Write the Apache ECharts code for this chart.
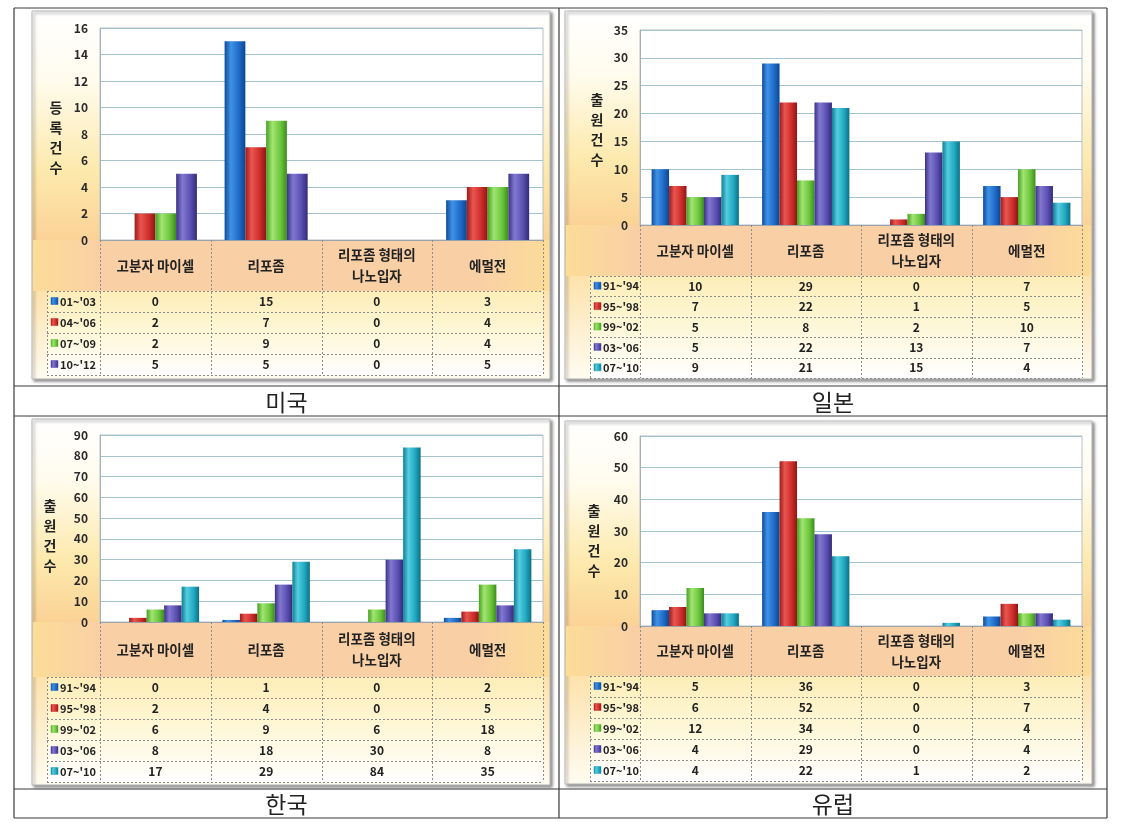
<!DOCTYPE html>
<html><head><meta charset="utf-8">
<script src="https://cdn.jsdelivr.net/npm/echarts@6/dist/echarts.min.js"></script>
<style>html,body{margin:0;padding:0;background:#fff}#c{width:1127px;height:826px}</style>
</head><body><div id="c"></div>
<script>
// ---------- data ----------
const categories = ['고분자 마이셀', '리포좀', '리포좀 형태의\n나노입자', '에멀전'];
const panelTitles = ['미국', '일본', '한국', '유럽'];
const axisTitles = ['등록건수', '출원건수', '출원건수', '출원건수'];

const usPeriods = ["01~'03", "04~'06", "07~'09", "10~'12"];
const usValues = [[0, 15, 0, 3], [2, 7, 0, 4], [2, 9, 0, 4], [5, 5, 0, 5]];

const jpPeriods = ["91~'94", "95~'98", "99~'02", "03~'06", "07~'10"];
const jpValues = [[10, 29, 0, 7], [7, 22, 1, 5], [5, 8, 2, 10], [5, 22, 13, 7], [9, 21, 15, 4]];

const krPeriods = ["91~'94", "95~'98", "99~'02", "03~'06", "07~'10"];
const krValues = [[0, 1, 0, 2], [2, 4, 0, 5], [6, 9, 6, 18], [8, 18, 30, 8], [17, 29, 84, 35]];

const euPeriods = ["91~'94", "95~'98", "99~'02", "03~'06", "07~'10"];
const euValues = [[5, 36, 0, 3], [6, 52, 0, 7], [12, 34, 0, 4], [4, 29, 0, 4], [4, 22, 1, 2]];

const yMax = [16, 35, 90, 60];
const yStep = [2, 5, 10, 10];

// ---------- layout / style ----------
const FONT = '"Noto Sans CJK KR","Noto Sans",sans-serif';
const layouts = [
  {frame: [32, 11, 518, 368], grid: [100, 28, 443, 212], catH: 51, rowH: 21, hdrX: 47, tX: 56, tY: 138, cell: [14, 386, 545, 30]},
  {frame: [565, 11, 527, 368], grid: [640, 30, 442, 195], catH: 51, rowH: 20.4, hdrX: 590, tX: 597, tY: 130, cell: [559, 386, 548, 30]},
  {frame: [32, 419, 518, 366], grid: [100, 435, 443, 187], catH: 55, rowH: 21, hdrX: 47, tX: 50, tY: 536, cell: [14, 789, 545, 29]},
  {frame: [565, 421, 527, 363], grid: [640, 436, 442, 190], catH: 50, rowH: 21, hdrX: 590, tX: 594, tY: 541, cell: [559, 789, 548, 29]}
];
const panelData = [
  {periods: usPeriods, values: usValues},
  {periods: jpPeriods, values: jpValues},
  {periods: krPeriods, values: krValues},
  {periods: euPeriods, values: euValues}
];
const baseColors = ['#1c64c0', '#c82a27', '#62be34', '#5346a8', '#1a9fb6'];
const gradStops = [
  ['#0f4c9c', '#3f92e6', '#1e6ac6', '#0c4690'],
  ['#9e1a18', '#ea5550', '#cc2d2a', '#8e1614'],
  ['#44a020', '#a2e472', '#6cc63c', '#3a8c1c'],
  ['#3b3184', '#8278d0', '#5a4fb2', '#342b78'],
  ['#0f7e94', '#55cde0', '#1fa8c0', '#0c7084']
];
function barGrad(k) {
  const s = gradStops[k];
  return {type: 'linear', x: 0, y: 0, x2: 1, y2: 0, colorStops: [
    {offset: 0, color: s[0]}, {offset: 0.3, color: s[1]}, {offset: 0.7, color: s[2]}, {offset: 1, color: s[3]}]};
}

const grids = [], xAxes = [], yAxes = [], series = [], graphics = [];

// outer table lines
const outerH = [8, 386, 416, 789, 818];
outerH.forEach(y => graphics.push({type: 'line', z: 50, shape: {x1: 14, y1: y, x2: 1107, y2: y}, style: {stroke: '#3a3a3a', lineWidth: 1.2}}));
[14, 559, 1107].forEach(x => graphics.push({type: 'line', z: 50, shape: {x1: x, y1: 8, x2: x, y2: 818}, style: {stroke: '#3a3a3a', lineWidth: 1.2}}));

layouts.forEach((L, i) => {
  const pd = panelData[i];
  const [gl, gt, gw, gh] = L.grid;
  const gb = gt + gh, gr = gl + gw;
  const nRows = pd.periods.length;
  const colW = gw / categories.length;

  grids.push({left: gl, top: gt, width: gw, height: gh, show: true, backgroundColor: '#ffffff', borderColor: '#b9c0c8', borderWidth: 1});
  xAxes.push({type: 'category', gridIndex: i, data: categories, axisLabel: {show: false}, axisTick: {show: false},
    axisLine: {lineStyle: {color: '#9aa3ab'}}});
  yAxes.push({type: 'value', gridIndex: i, min: 0, max: yMax[i], interval: yStep[i],
    axisLabel: {fontFamily: FONT, fontWeight: 'bold', fontSize: 12, color: '#2a2a2a', margin: 12},
    axisLine: {show: true, lineStyle: {color: '#a8b0b8'}}, axisTick: {show: false},
    splitLine: {lineStyle: {color: '#a3c3cf', width: 1}}});
  pd.periods.forEach((p, k) => {
    series.push({type: 'bar', name: p, xAxisIndex: i, yAxisIndex: i, data: pd.values[k],
      barGap: '0%', barCategoryGap: nRows === 4 ? '25%' : '21%',
      itemStyle: {color: barGrad(k)}, emphasis: {disabled: true}});
  });

  // frame background
  const [fx, fy, fw, fh] = L.frame;
  const p = (gb - fy) / fh, q = (gb + L.catH - fy) / fh;
  graphics.push({type: 'rect', z: -20, shape: {x: fx, y: fy, width: fw, height: fh},
    style: {fill: {type: 'linear', x: 0, y: 0, x2: 0, y2: 1, colorStops: [
      {offset: 0, color: '#ffffff'}, {offset: p * 0.3, color: '#fffcee'}, {offset: p * 0.7, color: '#fde9ac'},
      {offset: p, color: '#fbd296'}, {offset: q, color: '#fde2ac'}, {offset: 1, color: '#fffcf2'}]},
      stroke: '#b8b8b8', lineWidth: 1, shadowBlur: 3, shadowOffsetX: 2, shadowOffsetY: 2, shadowColor: 'rgba(0,0,0,0.45)'}});
  // category row band
  graphics.push({type: 'rect', z: -15, shape: {x: fx + 1, y: gb, width: fw - 2, height: L.catH},
    style: {fill: {type: 'linear', x: 0, y: 0, x2: 1, y2: 0, colorStops: [
      {offset: 0, color: '#fcdc98'}, {offset: 0.14, color: '#f9cfa6'}, {offset: 0.86, color: '#f9cfa6'}, {offset: 1, color: '#fcdc98'}]}}});
  // data rows band
  const rowsTop = gb + L.catH;
  graphics.push({type: 'rect', z: -15, shape: {x: L.hdrX, y: rowsTop, width: gr - L.hdrX, height: L.rowH * nRows},
    style: {fill: {type: 'linear', x: 0, y: 0, x2: 0, y2: 1, colorStops: [
      {offset: 0, color: '#fdeeb8'}, {offset: 0.5, color: '#fef7d8'}, {offset: 1, color: '#ffffff'}]}}});

  const dash = {stroke: '#8c8c8c', lineWidth: 1, lineDash: [2, 2]};
  for (let r = 0; r <= nRows; r++) {
    const y = Math.round(rowsTop + r * L.rowH) + 0.5;
    graphics.push({type: 'line', z: 5, shape: {x1: L.hdrX, y1: y, x2: gr, y2: y}, style: dash});
  }
  graphics.push({type: 'line', z: 5, shape: {x1: L.hdrX + 0.5, y1: rowsTop, x2: L.hdrX + 0.5, y2: rowsTop + L.rowH * nRows}, style: dash});
  for (let c = 0; c <= categories.length; c++) {
    const x = Math.round(gl + c * colW) + 0.5;
    graphics.push({type: 'line', z: 5, shape: {x1: x, y1: gb, x2: x, y2: rowsTop + L.rowH * nRows}, style: dash});
  }
  categories.forEach((cat, c) => {
    graphics.push({type: 'text', z: 20, x: gl + (c + 0.5) * colW, y: gb + L.catH / 2,
      style: {text: cat, fontFamily: FONT, fontWeight: 'bold', fontSize: 13.5, fill: '#222', align: 'center', verticalAlign: 'middle', lineHeight: 21}});
  });
  pd.periods.forEach((per, k) => {
    const cy = rowsTop + (k + 0.5) * L.rowH;
    graphics.push({type: 'rect', z: 20, shape: {x: L.hdrX + 4, y: cy - 4, width: 7, height: 7},
      style: {fill: barGrad(k), stroke: baseColors[k], lineWidth: 0.5}});
    graphics.push({type: 'text', z: 20, x: L.hdrX + 13, y: cy,
      style: {text: per, fontFamily: FONT, fontWeight: 'bold', fontSize: 11, fill: '#222', align: 'left', verticalAlign: 'middle'}});
    pd.values[k].forEach((v, c) => {
      graphics.push({type: 'text', z: 20, x: gl + (c + 0.5) * colW, y: cy,
        style: {text: String(v), fontFamily: FONT, fontWeight: 'bold', fontSize: 12, fill: '#222', align: 'center', verticalAlign: 'middle'}});
    });
  });
  graphics.push({type: 'text', z: 20, x: L.tX, y: L.tY,
    style: {text: axisTitles[i].split('').join('\n'), fontFamily: FONT, fontWeight: 'bold', fontSize: 14, fill: '#222', align: 'center', verticalAlign: 'middle', lineHeight: 20}});
  const [cx, cy0, cw, ch] = L.cell;
  graphics.push({type: 'text', z: 20, x: cx + cw / 2, y: cy0 + ch / 2 + 1,
    style: {text: panelTitles[i], fontFamily: FONT, fontSize: 23, fill: '#222', align: 'center', verticalAlign: 'middle'}});
});

const chart = echarts.init(document.getElementById('c'), null, {renderer: 'canvas'});
chart.setOption({
  animation: false,
  backgroundColor: '#ffffff',
  grid: grids, xAxis: xAxes, yAxis: yAxes, series: series,
  graphic: {elements: graphics}
});
</script></body></html>
